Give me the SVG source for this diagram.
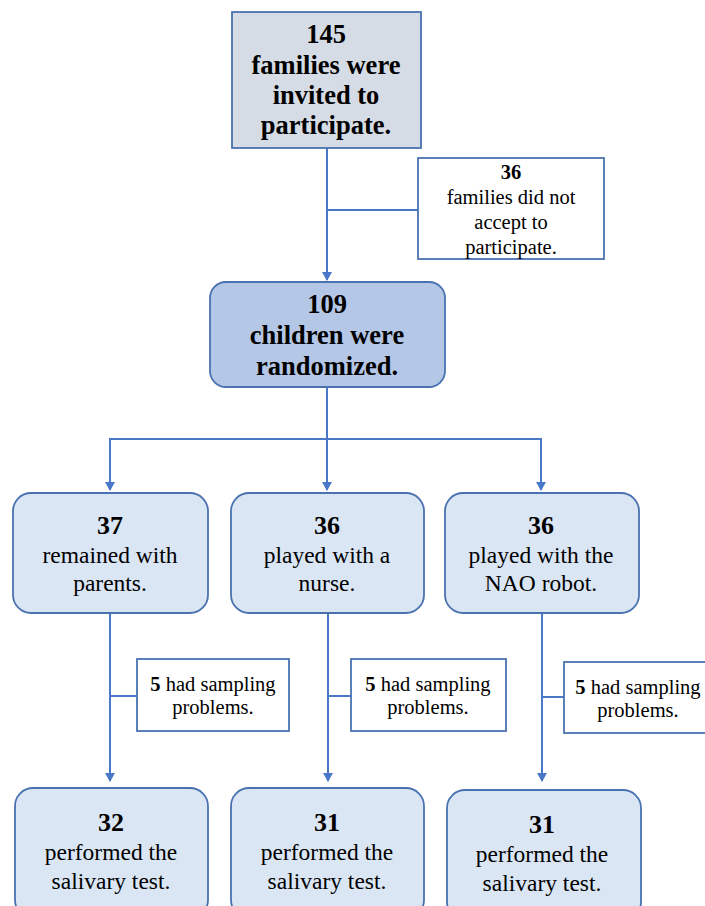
<svg xmlns="http://www.w3.org/2000/svg" width="705" height="906" viewBox="0 0 705 906">
<style>
text{font-family:'Liberation Serif','DejaVu Serif',serif;fill:#000;text-anchor:middle}
.b{font-weight:bold}
.big{font-size:26.5px;font-weight:bold}
.num{font-size:26px;font-weight:bold}
.reg{font-size:23.5px}
.sm{font-size:20.5px}
.ln{stroke:#4a78c8;stroke-width:2;fill:none}
.box{stroke:#4a72b0;stroke-width:1.8}
</style>
<defs>
<marker id="ar" markerWidth="10" markerHeight="10" refX="8" refY="5" orient="auto" markerUnits="userSpaceOnUse">
<path d="M0,0 L9,5 L0,10 z" fill="#4a78c8"/>
</marker>
</defs>
<g id="connectors">
<line class="ln" x1="327" y1="148" x2="327" y2="280" marker-end="url(#ar)"/>
<line class="ln" x1="327" y1="210" x2="418" y2="210"/>
<line class="ln" x1="327" y1="387" x2="327" y2="490" marker-end="url(#ar)"/>
<line class="ln" x1="109" y1="439" x2="542" y2="439"/>
<line class="ln" x1="110" y1="438" x2="110" y2="490" marker-end="url(#ar)"/>
<line class="ln" x1="541" y1="438" x2="541" y2="490" marker-end="url(#ar)"/>
<line class="ln" x1="110" y1="613" x2="110" y2="781" marker-end="url(#ar)"/>
<line class="ln" x1="110" y1="696" x2="137" y2="696"/>
<line class="ln" x1="328" y1="613" x2="328" y2="781" marker-end="url(#ar)"/>
<line class="ln" x1="328" y1="696" x2="351" y2="696"/>
<line class="ln" x1="542" y1="613" x2="542" y2="781" marker-end="url(#ar)"/>
<line class="ln" x1="542" y1="697" x2="564" y2="697"/>
</g>
<g id="n145">
<rect class="box" x="232" y="12" width="189" height="136" fill="#d6dce5"/>
<text class="big" x="326" y="43">145</text>
<text class="big" x="326" y="74">families were</text>
<text class="big" x="326" y="104">invited to</text>
<text class="big" x="326" y="134">participate.</text>
</g>
<g id="n36excl">
<rect class="box" x="418" y="158" width="186" height="101" fill="#fff"/>
<text class="sm b" x="511" y="179">36</text>
<text class="sm" x="511" y="204">families did not</text>
<text class="sm" x="511" y="229">accept to</text>
<text class="sm" x="511" y="254">participate.</text>
</g>
<g id="n109">
<rect class="box" x="210" y="282" width="235" height="105" rx="16" fill="#b4c7e7"/>
<text class="big" x="327" y="313">109</text>
<text class="big" x="327" y="344">children were</text>
<text class="big" x="327" y="375">randomized.</text>
</g>
<g id="n37">
<rect class="box" x="13" y="493" width="195" height="120" rx="18" fill="#dae6f4"/>
<text class="num" x="110" y="534">37</text>
<text class="reg" x="110" y="563">remained with</text>
<text class="reg" x="110" y="591">parents.</text>
</g>
<g id="n36nurse">
<rect class="box" x="231" y="493" width="193" height="120" rx="18" fill="#dae6f4"/>
<text class="num" x="327" y="534">36</text>
<text class="reg" x="327" y="563">played with a</text>
<text class="reg" x="327" y="591">nurse.</text>
</g>
<g id="n36nao">
<rect class="box" x="445" y="493" width="194" height="120" rx="18" fill="#dae6f4"/>
<text class="num" x="541" y="534">36</text>
<text class="reg" x="541" y="563">played with the</text>
<text class="reg" x="541" y="591">NAO robot.</text>
</g>
<g id="s1">
<rect class="box" x="137" y="659" width="152" height="72" fill="#fff"/>
<text class="sm" x="213" y="691"><tspan font-weight="bold">5</tspan> had sampling</text>
<text class="sm" x="213" y="714">problems.</text>
</g>
<g id="s2">
<rect class="box" x="351" y="659" width="155" height="72" fill="#fff"/>
<text class="sm" x="428" y="691"><tspan font-weight="bold">5</tspan> had sampling</text>
<text class="sm" x="428" y="714">problems.</text>
</g>
<g id="s3">
<rect class="box" x="564" y="662" width="142" height="71" fill="#fff"/>
<text class="sm" x="638" y="694"><tspan font-weight="bold">5</tspan> had sampling</text>
<text class="sm" x="638" y="717">problems.</text>
</g>
<g id="n32">
<rect class="box" x="15" y="788" width="193" height="130" rx="18" fill="#dae6f4"/>
<text class="num" x="111" y="831">32</text>
<text class="reg" x="111" y="860">performed the</text>
<text class="reg" x="111" y="889">salivary test.</text>
</g>
<g id="n31a">
<rect class="box" x="231" y="788" width="193" height="130" rx="18" fill="#dae6f4"/>
<text class="num" x="327" y="831">31</text>
<text class="reg" x="327" y="860">performed the</text>
<text class="reg" x="327" y="889">salivary test.</text>
</g>
<g id="n31b">
<rect class="box" x="447" y="790" width="194" height="130" rx="18" fill="#dae6f4"/>
<text class="num" x="542" y="833">31</text>
<text class="reg" x="542" y="862">performed the</text>
<text class="reg" x="542" y="891">salivary test.</text>
</g>
</svg>
